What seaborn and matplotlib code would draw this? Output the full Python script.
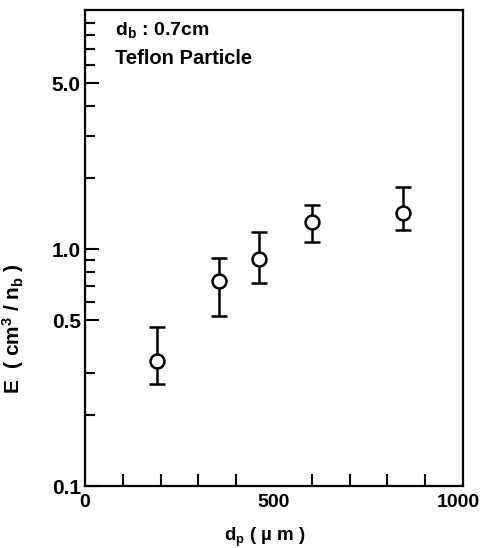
import numpy as np
import pandas as pd
import matplotlib
matplotlib.use("Agg")
import matplotlib.pyplot as plt
import matplotlib.transforms as mtransforms
import seaborn as sns
from matplotlib.ticker import FixedLocator, NullFormatter

# ---- data ----
dp = [190, 355, 460, 600, 840]            # particle diameter, um
E = [0.337, 0.735, 0.91, 1.30, 1.42]      # cm^3 / n_b
E_low = [0.269, 0.52, 0.72, 1.067, 1.20]
E_high = [0.47, 0.914, 1.18, 1.54, 1.83]

x_ticks = [0, 500, 1000]
x_ticklabels = ["0", "500", "1000"]
y_ticks = [0.1, 0.5, 1.0, 5.0]
y_ticklabels = ["0.1", "0.5", "1.0", "5.0"]
y_minor = [0.2, 0.3, 0.6, 0.7, 0.8, 0.9, 2, 3, 4, 6, 7, 8, 9]

df = pd.DataFrame({"dp": dp, "E": E, "lo": E_low, "hi": E_high})

sns.set_style("ticks")
plt.rcParams["font.family"] = ["Liberation Sans", "DejaVu Sans"]
plt.rcParams["font.weight"] = "bold"
plt.rcParams["text.color"] = "black"
plt.rcParams["axes.labelcolor"] = "black"
plt.rcParams["xtick.color"] = "black"
plt.rcParams["ytick.color"] = "black"
plt.rcParams["mathtext.fontset"] = "custom"
plt.rcParams["mathtext.rm"] = "Liberation Sans:bold"
plt.rcParams["mathtext.bf"] = "Liberation Sans:bold"
plt.rcParams["mathtext.it"] = "Liberation Sans:bold"
plt.rcParams["mathtext.default"] = "bf"

fig = plt.figure(figsize=(4.81, 5.48), dpi=100)
ax = fig.add_axes([85 / 481, 1 - 486 / 548, 378 / 481, 476 / 548])

yerr = np.array([df["E"] - df["lo"], df["hi"] - df["E"]])
ax.errorbar(df["dp"], df["E"], yerr=yerr, fmt="none", ecolor="black",
            elinewidth=1.8, capsize=5.5, capthick=1.8, zorder=2)
sns.scatterplot(data=df, x="dp", y="E", ax=ax, marker="o", s=100,
                facecolor="white", edgecolor="black", linewidth=1.8,
                zorder=3, legend=False)

ax.set_yscale("log")
ax.set_xlim(0, 1000)
ax.set_ylim(0.1, 10.2)

ax.set_xticks(x_ticks)
ax.set_xticklabels(x_ticklabels)
ax.xaxis.set_minor_locator(FixedLocator(list(range(100, 1000, 100))))
ax.set_yticks(y_ticks)
ax.set_yticklabels(y_ticklabels)
ax.yaxis.set_minor_locator(FixedLocator(y_minor))
ax.yaxis.set_minor_formatter(NullFormatter())

ax.tick_params(axis="both", which="both", direction="in", color="black",
               width=1.5, top=False, right=False)
ax.tick_params(axis="x", which="major", length=0, pad=6, labelsize=14)
ax.tick_params(axis="x", which="minor", length=9)
ax.tick_params(axis="y", which="major", length=10, pad=3, labelsize=15)
ax.tick_params(axis="y", which="minor", length=7)
for lab in ax.get_xticklabels() + ax.get_yticklabels():
    lab.set_fontweight("bold")
last = ax.get_xticklabels()[-1]
last.set_transform(last.get_transform() +
                   mtransforms.ScaledTranslation(-5 / 100, 0, fig.dpi_scale_trans))

for s in ax.spines.values():
    s.set_color("black")
    s.set_linewidth(1.6)
    s.set_visible(True)

ax.set_xlabel(r"d$_\mathbf{p}$ ( µ m )", fontsize=13.5, fontweight="bold")
ax.xaxis.set_label_coords(0.475, -0.083)
ax.set_ylabel(r"E  ( cm$^\mathbf{3}$ / n$_\mathbf{b}$ )", fontsize=15, fontweight="bold")
ax.yaxis.set_label_coords(-0.155, 0.33)

ax.text(0.079, 0.958, r"d$_\mathbf{b}$ : 0.7cm", transform=ax.transAxes,
        fontsize=14, fontweight="bold", va="center", ha="left")
ax.text(0.079, 0.899, "Teflon Particle", transform=ax.transAxes,
        fontsize=14.5, fontweight="bold", va="center", ha="left")

fig.savefig("out.png", dpi=100)
